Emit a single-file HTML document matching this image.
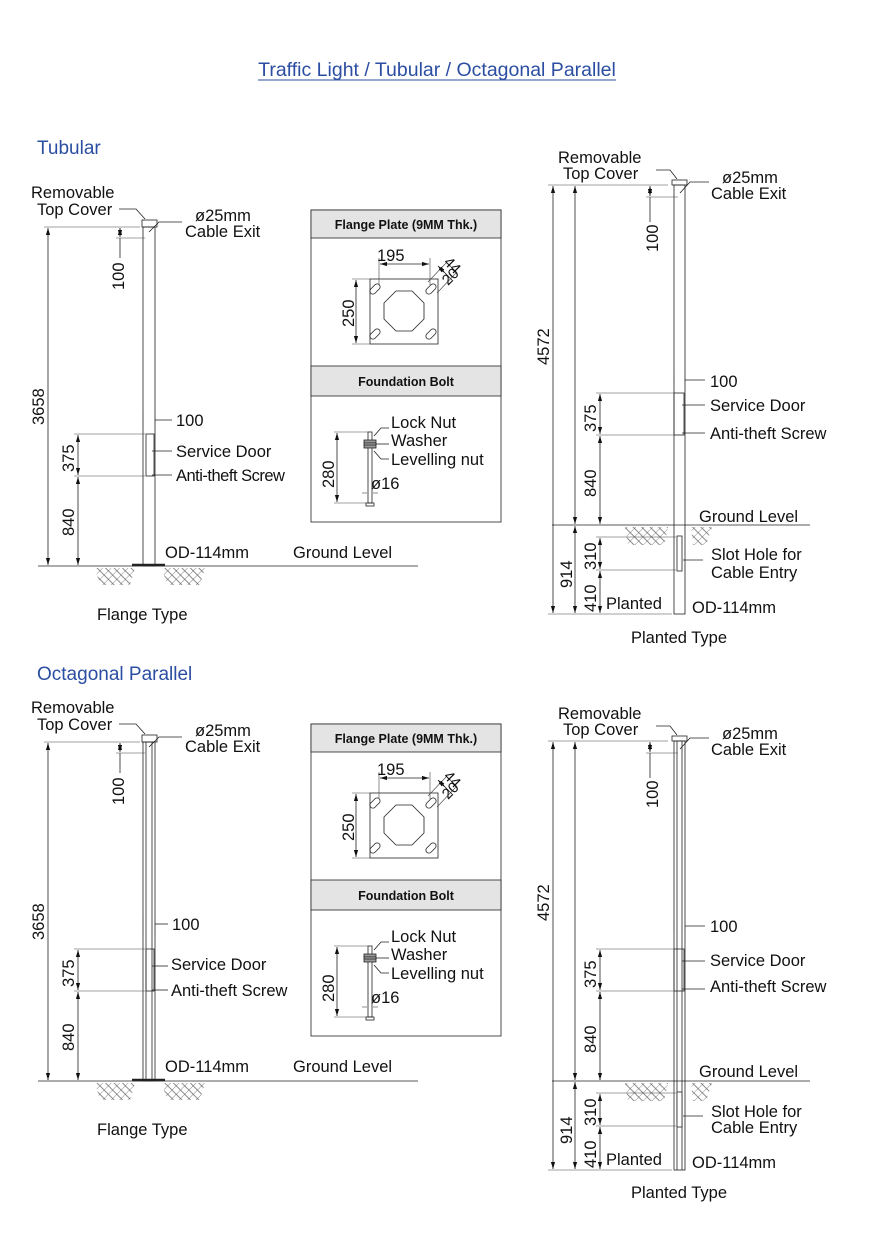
<!DOCTYPE html>
<html><head><meta charset="utf-8"><style>
html,body{margin:0;padding:0;background:#fff}
svg{display:block}
text{font-family:"Liberation Sans",sans-serif;font-size:16.5px;fill:#111}
.t{fill:#2b4ea2;font-size:19px}
.tt{fill:#2b4ea2;font-size:19.5px}
.h{font-size:12.5px;font-weight:bold}
line,rect,path,polygon{stroke:#222;stroke-width:0.8;fill:none}
.d{marker-start:url(#ar);marker-end:url(#ar)}
.e{stroke:#444;stroke-width:0.6}
.hat{fill:url(#hp);stroke:none}
</style></head><body>
<svg width="874" height="1240" viewBox="0 0 874 1240" xmlns="http://www.w3.org/2000/svg">
<defs>
<marker id="ar" viewBox="0 0 10 10" refX="10" refY="5" markerWidth="7" markerHeight="7" orient="auto-start-reverse" markerUnits="userSpaceOnUse"><path d="M0,2 L10,5 L0,8 z" style="fill:#111;stroke:none"/></marker>
<pattern id="hp" width="6" height="6" patternUnits="userSpaceOnUse" patternTransform="rotate(45)"><line x1="0" y1="0" x2="0" y2="6" style="stroke:#555;stroke-width:0.7"/><line x1="0" y1="3" x2="6" y2="3" style="stroke:#555;stroke-width:0.7"/></pattern>
</defs>

<text class="tt" x="437" y="76" text-anchor="middle">Traffic Light / Tubular / Octagonal Parallel</text>
<line x1="258" y1="80" x2="616" y2="80" style="stroke:#2b4ea2;stroke-width:1"/>
<text class="t" x="37" y="154">Tubular</text>
<text class="t" x="37" y="680">Octagonal Parallel</text>

<!-- ===== FLANGE TOP ===== -->
<g>
<rect x="142" y="220" width="15" height="7"/>
<rect x="143" y="227" width="12" height="339"/>
<rect x="146" y="434" width="8" height="42"/>
<line x1="38" y1="566" x2="418" y2="566"/>
<line x1="132" y1="565" x2="165" y2="565" style="stroke-width:2.5"/>
<polygon class="hat" points="95,568 135,568 130,585 100,585"/>
<polygon class="hat" points="162,568 205,568 200,585 167,585"/>
<line class="e" x1="44" y1="227" x2="140" y2="227"/>
<line class="e" x1="116" y1="238" x2="145" y2="238"/>
<line class="e" x1="74" y1="434" x2="145" y2="434"/>
<line class="e" x1="74" y1="476" x2="145" y2="476"/>
<line class="d" x1="48" y1="228" x2="48" y2="565"/>
<line class="d" x1="120" y1="228" x2="120" y2="237"/>
<line x1="120" y1="238" x2="120" y2="258"/>
<line class="d" x1="78" y1="435" x2="78" y2="475"/>
<line class="d" x1="78" y1="477" x2="78" y2="565"/>
<line class="e" x1="143" y1="414" x2="143" y2="426"/><line class="e" x1="155" y1="414" x2="155" y2="426"/>
<line x1="155" y1="420" x2="172" y2="420"/>
<line x1="152" y1="451" x2="172" y2="451"/>
<line x1="152" y1="475" x2="172" y2="475"/>
<path d="M119,209 L136,209 L145,219"/>
<path d="M149,232 L159,222 L182,222"/>
<text x="31" y="198">Removable</text><text x="37" y="215">Top Cover</text>
<text x="195" y="221">ø25mm</text><text x="185" y="237">Cable Exit</text>
<text transform="translate(124,290) rotate(-90)">100</text>
<text transform="translate(44,425) rotate(-90)">3658</text>
<text transform="translate(74,472) rotate(-90)">375</text>
<text transform="translate(74,536) rotate(-90)">840</text>
<text x="176" y="426">100</text>
<text x="176" y="457">Service Door</text>
<text x="176" y="481" style="letter-spacing:-0.5px">Anti-theft Screw</text>
<text x="165" y="558">OD-114mm</text>
<text x="293" y="558">Ground Level</text>
<text x="97" y="620">Flange Type</text>
</g>

<!-- ===== FLANGE BOTTOM (octagonal) ===== -->
<g transform="translate(0,515)">
<rect x="142" y="220" width="15" height="7"/>
<rect x="143" y="227" width="12" height="339"/>
<line x1="146" y1="227" x2="146" y2="566"/><line x1="152" y1="227" x2="152" y2="566"/>
<rect x="146" y="434" width="8" height="42"/>
<line x1="38" y1="566" x2="418" y2="566"/>
<line x1="132" y1="565" x2="165" y2="565" style="stroke-width:2.5"/>
<polygon class="hat" points="95,568 135,568 130,585 100,585"/>
<polygon class="hat" points="162,568 205,568 200,585 167,585"/>
<line class="e" x1="44" y1="227" x2="140" y2="227"/>
<line class="e" x1="116" y1="238" x2="145" y2="238"/>
<line class="e" x1="74" y1="434" x2="145" y2="434"/>
<line class="e" x1="74" y1="476" x2="145" y2="476"/>
<line class="d" x1="48" y1="228" x2="48" y2="565"/>
<line class="d" x1="120" y1="228" x2="120" y2="237"/>
<line x1="120" y1="238" x2="120" y2="258"/>
<line class="d" x1="78" y1="435" x2="78" y2="475"/>
<line class="d" x1="78" y1="477" x2="78" y2="565"/>
<line class="e" x1="143" y1="403" x2="143" y2="420"/><line class="e" x1="155" y1="403" x2="155" y2="420"/>
<line x1="155" y1="409" x2="168" y2="409"/>
<line x1="152" y1="451" x2="168" y2="451"/>
<line x1="152" y1="475" x2="168" y2="475"/>
<path d="M119,209 L136,209 L145,219"/>
<path d="M149,232 L159,222 L182,222"/>
<text x="31" y="198">Removable</text><text x="37" y="215">Top Cover</text>
<text x="195" y="221">ø25mm</text><text x="185" y="237">Cable Exit</text>
<text transform="translate(124,290) rotate(-90)">100</text>
<text transform="translate(44,425) rotate(-90)">3658</text>
<text transform="translate(74,472) rotate(-90)">375</text>
<text transform="translate(74,536) rotate(-90)">840</text>
<text x="172" y="415">100</text>
<text x="171" y="455">Service Door</text>
<text x="171" y="481">Anti-theft Screw</text>
<text x="165" y="557">OD-114mm</text>
<text x="293" y="557">Ground Level</text>
<text x="97" y="620">Flange Type</text>
</g>

<!-- ===== FLANGE PLATE BOXES ===== -->
<g>
<rect x="311" y="210" width="190" height="312"/>
<rect x="311" y="210" width="190" height="28" style="fill:#e4e4e4"/>
<rect x="311" y="366" width="190" height="30" style="fill:#e4e4e4"/>
<text class="h" x="406" y="229" text-anchor="middle">Flange Plate (9MM Thk.)</text>
<text class="h" x="406" y="386" text-anchor="middle">Foundation Bolt</text>
<rect x="370" y="279" width="68" height="65"/>
<polygon points="396,291 412,291 424,303 424,319 412,331 396,331 384,319 384,303"/>
<rect x="372" y="283" width="6" height="12" rx="3" transform="rotate(45 375 289)"/>
<rect x="428" y="283" width="6" height="12" rx="3" transform="rotate(45 431 289)"/>
<rect x="372" y="328" width="6" height="12" rx="3" transform="rotate(45 375 334)"/>
<rect x="428" y="328" width="6" height="12" rx="3" transform="rotate(45 431 334)"/>
<line class="e" x1="379" y1="258" x2="379" y2="285"/><line class="e" x1="430" y1="258" x2="430" y2="285"/>
<line class="d" x1="380" y1="264" x2="429" y2="264"/>
<line class="e" x1="352" y1="279" x2="370" y2="279"/><line class="e" x1="352" y1="344" x2="370" y2="344"/>
<line class="d" x1="356" y1="280" x2="356" y2="343"/>
<line class="e" x1="428" y1="282" x2="447" y2="262"/><line class="e" x1="437" y1="293" x2="456" y2="273"/>
<line class="d" x1="438" y1="266" x2="445" y2="273"/>
<line x1="445" y1="273" x2="452" y2="280"/>
<text x="377" y="261">195</text>
<text transform="translate(354,327) rotate(-90)">250</text>
<text transform="translate(443,263) rotate(45)" style="font-size:15px">44</text>
<text transform="translate(448,286) rotate(-45)" style="font-size:15px">20</text>
<rect x="368" y="432" width="4" height="71"/>
<rect x="364" y="440" width="12" height="3" style="fill:#999"/>
<rect x="364" y="443" width="12" height="2" style="fill:#bbb"/>
<rect x="364" y="445" width="12" height="3" style="fill:#999"/>
<rect x="366" y="503" width="8" height="3"/>
<line class="e" x1="334" y1="432" x2="368" y2="432"/><line class="e" x1="334" y1="503" x2="366" y2="503"/>
<line class="d" x1="337" y1="433" x2="337" y2="502"/>
<line class="e" x1="362" y1="493" x2="367" y2="493"/><line class="e" x1="373" y1="493" x2="378" y2="493"/>
<path d="M374,436 L381,428 L389,428"/>
<line x1="376" y1="444" x2="389" y2="444"/>
<path d="M374,451 L381,459 L389,459"/>
<text transform="translate(334,488) rotate(-90)">280</text>
<text x="391" y="428">Lock Nut</text>
<text x="391" y="446">Washer</text>
<text x="391" y="465">Levelling nut</text>
<text x="371" y="489">ø16</text>
</g>
<g transform="translate(0,514)">
<rect x="311" y="210" width="190" height="312"/>
<rect x="311" y="210" width="190" height="28" style="fill:#e4e4e4"/>
<rect x="311" y="366" width="190" height="30" style="fill:#e4e4e4"/>
<text class="h" x="406" y="229" text-anchor="middle">Flange Plate (9MM Thk.)</text>
<text class="h" x="406" y="386" text-anchor="middle">Foundation Bolt</text>
<rect x="370" y="279" width="68" height="65"/>
<polygon points="396,291 412,291 424,303 424,319 412,331 396,331 384,319 384,303"/>
<rect x="372" y="283" width="6" height="12" rx="3" transform="rotate(45 375 289)"/>
<rect x="428" y="283" width="6" height="12" rx="3" transform="rotate(45 431 289)"/>
<rect x="372" y="328" width="6" height="12" rx="3" transform="rotate(45 375 334)"/>
<rect x="428" y="328" width="6" height="12" rx="3" transform="rotate(45 431 334)"/>
<line class="e" x1="379" y1="258" x2="379" y2="285"/><line class="e" x1="430" y1="258" x2="430" y2="285"/>
<line class="d" x1="380" y1="264" x2="429" y2="264"/>
<line class="e" x1="352" y1="279" x2="370" y2="279"/><line class="e" x1="352" y1="344" x2="370" y2="344"/>
<line class="d" x1="356" y1="280" x2="356" y2="343"/>
<line class="e" x1="428" y1="282" x2="447" y2="262"/><line class="e" x1="437" y1="293" x2="456" y2="273"/>
<line class="d" x1="438" y1="266" x2="445" y2="273"/>
<line x1="445" y1="273" x2="452" y2="280"/>
<text x="377" y="261">195</text>
<text transform="translate(354,327) rotate(-90)">250</text>
<text transform="translate(443,263) rotate(45)" style="font-size:15px">44</text>
<text transform="translate(448,286) rotate(-45)" style="font-size:15px">20</text>
<rect x="368" y="432" width="4" height="71"/>
<rect x="364" y="440" width="12" height="3" style="fill:#999"/>
<rect x="364" y="443" width="12" height="2" style="fill:#bbb"/>
<rect x="364" y="445" width="12" height="3" style="fill:#999"/>
<rect x="366" y="503" width="8" height="3"/>
<line class="e" x1="334" y1="432" x2="368" y2="432"/><line class="e" x1="334" y1="503" x2="366" y2="503"/>
<line class="d" x1="337" y1="433" x2="337" y2="502"/>
<line class="e" x1="362" y1="493" x2="367" y2="493"/><line class="e" x1="373" y1="493" x2="378" y2="493"/>
<path d="M374,436 L381,428 L389,428"/>
<line x1="376" y1="444" x2="389" y2="444"/>
<path d="M374,451 L381,459 L389,459"/>
<text transform="translate(334,488) rotate(-90)">280</text>
<text x="391" y="428">Lock Nut</text>
<text x="391" y="446">Washer</text>
<text x="391" y="465">Levelling nut</text>
<text x="371" y="489">ø16</text>
</g>

<!-- ===== PLANTED TOP ===== -->
<g>
<rect x="672" y="180" width="15" height="5"/>
<rect x="674" y="185" width="11" height="429"/>
<rect x="674" y="393" width="10" height="42"/>
<rect x="677" y="536" width="5" height="35"/>
<line x1="552" y1="525" x2="810" y2="525"/>
<polygon class="hat" points="625,527 668,527 664,545 628,545"/>
<polygon class="hat" points="691,527 712,527 706,545 693,545"/>
<line class="e" x1="548" y1="185" x2="668" y2="185"/>
<line class="e" x1="646" y1="197" x2="678" y2="197"/>
<line class="e" x1="596" y1="393" x2="674" y2="393"/>
<line class="e" x1="596" y1="435" x2="684" y2="435"/>
<line class="e" x1="596" y1="537" x2="676" y2="537"/>
<line class="e" x1="596" y1="570" x2="676" y2="570"/>
<line class="e" x1="548" y1="614" x2="672" y2="614"/>
<line class="d" x1="553" y1="186" x2="553" y2="613"/>
<line class="d" x1="575" y1="186" x2="575" y2="524"/>
<line class="d" x1="575" y1="526" x2="575" y2="613"/>
<line class="d" x1="650" y1="186" x2="650" y2="196"/>
<line x1="650" y1="197" x2="650" y2="222"/>
<line class="d" x1="600" y1="394" x2="600" y2="434"/>
<line class="d" x1="600" y1="436" x2="600" y2="524"/>
<line class="d" x1="600" y1="538" x2="600" y2="569"/>
<line class="d" x1="600" y1="571" x2="600" y2="613"/>
<line class="e" x1="674" y1="374" x2="674" y2="386"/><line class="e" x1="685" y1="374" x2="685" y2="386"/>
<line x1="685" y1="380" x2="705" y2="380"/>
<line x1="682" y1="405" x2="705" y2="405"/>
<line x1="682" y1="433" x2="705" y2="433"/>
<line x1="683" y1="560" x2="703" y2="560"/>
<path d="M656,170 L670,170 L677,179"/>
<path d="M680,193 L690,182 L709,182"/>
<text x="558" y="163">Removable</text><text x="563" y="179">Top Cover</text>
<text x="722" y="183">ø25mm</text><text x="711" y="199">Cable Exit</text>
<text transform="translate(658,252) rotate(-90)">100</text>
<text transform="translate(549,365) rotate(-90)">4572</text>
<text transform="translate(596,432) rotate(-90)">375</text>
<text transform="translate(596,497) rotate(-90)">840</text>
<text transform="translate(572,588) rotate(-90)">914</text>
<text transform="translate(596,570) rotate(-90)">310</text>
<text transform="translate(596,612) rotate(-90)">410</text>
<text x="710" y="387">100</text>
<text x="710" y="411">Service Door</text>
<text x="710" y="439">Anti-theft Screw</text>
<text x="699" y="522">Ground Level</text>
<text x="711" y="560">Slot Hole for</text>
<text x="711" y="578">Cable Entry</text>
<text x="606" y="609">Planted</text>
<text x="692" y="613">OD-114mm</text>
<text x="631" y="643">Planted Type</text>
</g>

<!-- ===== PLANTED BOTTOM ===== -->
<g transform="translate(0,556)">
<rect x="672" y="180" width="15" height="5"/>
<rect x="674" y="185" width="11" height="429"/>
<line x1="677" y1="185" x2="677" y2="614"/><line x1="682" y1="185" x2="682" y2="614"/>
<rect x="674" y="393" width="10" height="42"/>
<rect x="677" y="536" width="5" height="35" style="fill:#fff"/>
<line x1="552" y1="525" x2="810" y2="525"/>
<polygon class="hat" points="625,527 668,527 664,545 628,545"/>
<polygon class="hat" points="691,527 712,527 706,545 693,545"/>
<line class="e" x1="548" y1="185" x2="668" y2="185"/>
<line class="e" x1="646" y1="197" x2="678" y2="197"/>
<line class="e" x1="596" y1="393" x2="674" y2="393"/>
<line class="e" x1="596" y1="435" x2="684" y2="435"/>
<line class="e" x1="596" y1="537" x2="676" y2="537"/>
<line class="e" x1="596" y1="570" x2="676" y2="570"/>
<line class="e" x1="548" y1="614" x2="672" y2="614"/>
<line class="d" x1="553" y1="186" x2="553" y2="613"/>
<line class="d" x1="575" y1="186" x2="575" y2="524"/>
<line class="d" x1="575" y1="526" x2="575" y2="613"/>
<line class="d" x1="650" y1="186" x2="650" y2="196"/>
<line x1="650" y1="197" x2="650" y2="222"/>
<line class="d" x1="600" y1="394" x2="600" y2="434"/>
<line class="d" x1="600" y1="436" x2="600" y2="524"/>
<line class="d" x1="600" y1="538" x2="600" y2="569"/>
<line class="d" x1="600" y1="571" x2="600" y2="613"/>
<line class="e" x1="674" y1="364" x2="674" y2="376"/><line class="e" x1="685" y1="364" x2="685" y2="376"/>
<line x1="685" y1="370" x2="705" y2="370"/>
<line x1="682" y1="405" x2="705" y2="405"/>
<line x1="682" y1="433" x2="705" y2="433"/>
<line x1="683" y1="560" x2="703" y2="560"/>
<path d="M656,170 L670,170 L677,179"/>
<path d="M680,193 L690,182 L709,182"/>
<text x="558" y="163">Removable</text><text x="563" y="179">Top Cover</text>
<text x="722" y="183">ø25mm</text><text x="711" y="199">Cable Exit</text>
<text transform="translate(658,252) rotate(-90)">100</text>
<text transform="translate(549,365) rotate(-90)">4572</text>
<text transform="translate(596,432) rotate(-90)">375</text>
<text transform="translate(596,497) rotate(-90)">840</text>
<text transform="translate(572,588) rotate(-90)">914</text>
<text transform="translate(596,570) rotate(-90)">310</text>
<text transform="translate(596,612) rotate(-90)">410</text>
<text x="710" y="376">100</text>
<text x="710" y="410">Service Door</text>
<text x="710" y="436">Anti-theft Screw</text>
<text x="699" y="521">Ground Level</text>
<text x="711" y="561">Slot Hole for</text>
<text x="711" y="577">Cable Entry</text>
<text x="606" y="609">Planted</text>
<text x="692" y="612">OD-114mm</text>
<text x="631" y="642">Planted Type</text>
</g>
</svg>
</body></html>
